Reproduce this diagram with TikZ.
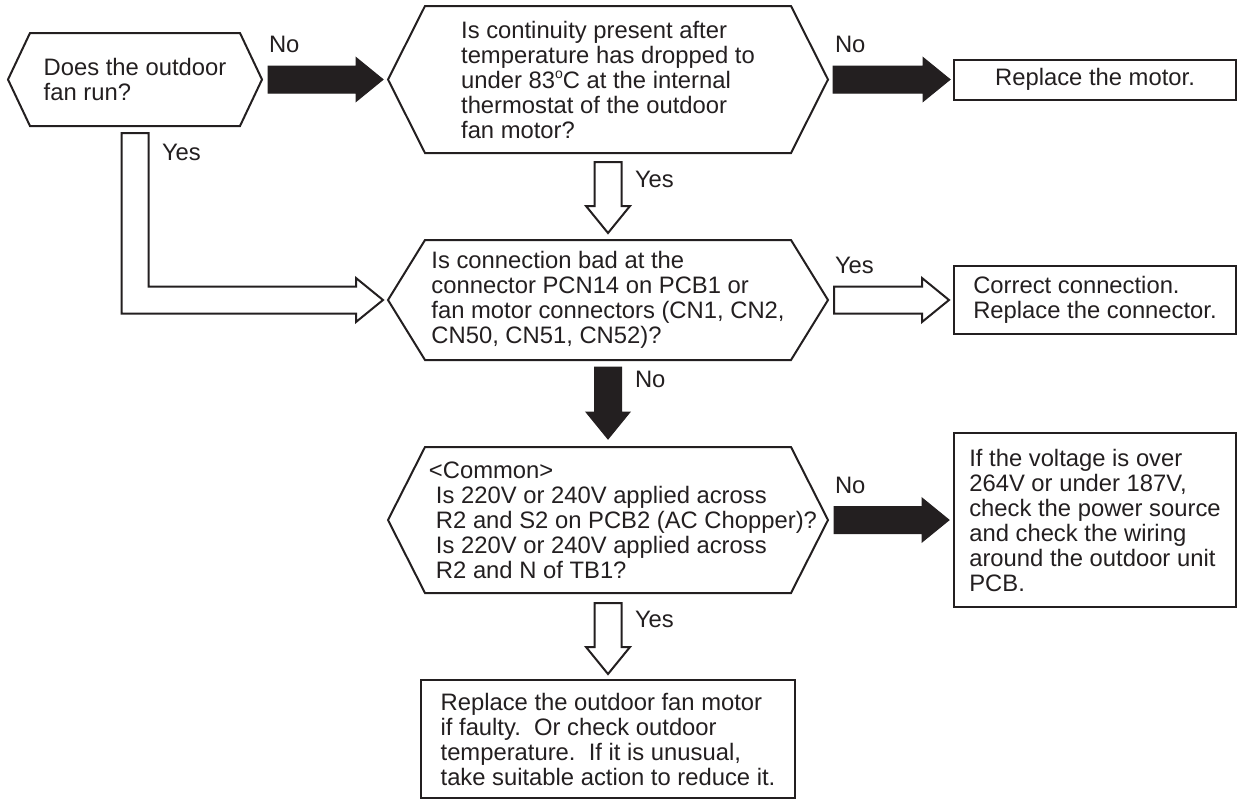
\documentclass[tikz,border=0pt]{standalone}
\usepackage{fontspec}
\setmainfont{Liberation Sans}
\usepackage{xcolor}
\usetikzlibrary{positioning,calc}

\definecolor{ink}{HTML}{231F20}

% hexagon drawn round a question node
\newcommand{\hexframe}[2]{%
  \draw[hexline] ([xshift=#2]#1.north west) -- ([xshift=-#2]#1.north east) -- (#1.east)
    -- ([xshift=-#2]#1.south east) -- ([xshift=#2]#1.south west) -- (#1.west) -- cycle;}

% block arrows: style, start, tip
\newcommand{\rarrow}[3]{%
  \draw[#1] let \p1=#2, \p2=#3 in
    (\x1,\y2+6.75pt) -- (\x2-13.5pt,\y2+6.75pt) -- (\x2-13.5pt,\y2+11pt) -- (\x2,\y2)
    -- (\x2-13.5pt,\y2-11pt) -- (\x2-13.5pt,\y2-6.75pt) -- (\x1,\y2-6.75pt) -- cycle;}
\newcommand{\darrow}[3]{%
  \draw[#1] let \p1=#2, \p2=#3 in
    (\x2-6.75pt,\y1) -- (\x2+6.75pt,\y1) -- (\x2+6.75pt,\y2+13.5pt) -- (\x2+11pt,\y2+13.5pt) -- (\x2,\y2)
    -- (\x2-11pt,\y2+13.5pt) -- (\x2-6.75pt,\y2+13.5pt) -- cycle;}

\begin{document}
\begin{tikzpicture}[
    node distance=43.5pt and 63pt,
    every node/.style={font=\fontsize{11.9pt}{12.5pt}\selectfont, text=ink, outer sep=0pt},
    hexbox/.style={align=left, inner sep=0pt, minimum width=220pt},
    box/.style={draw=ink, line width=1pt, align=left, minimum width=141pt},
    hexline/.style={draw=ink, line width=1pt, line join=miter},
    blackarrow/.style={fill=ink, draw=ink, line width=0.5pt},
    whitearrow/.style={fill=white, draw=ink, line width=1pt},
    lbl/.style={inner sep=0pt, anchor=base west}
]
\useasboundingbox (-67.5pt,39.75pt) rectangle (551pt,-360.25pt);

\node[hexbox, minimum width=127pt, minimum height=46.5pt] (run) {Does the outdoor\\fan run?};
\node[hexbox, minimum height=73.5pt, right=of run] (thermo) {Is continuity present after\\temperature has dropped to\\under 83{\fontsize{7pt}{7pt}\selectfont\raisebox{4.6pt}{o}}C at the internal\\thermostat of the outdoor\\fan motor?};
\node[box, minimum height=20pt, right=of thermo] (motor) {Replace the motor.};
\node[hexbox, minimum height=60pt, below=of thermo] (conn) {Is connection bad at the\\connector PCN14 on PCB1 or\\fan motor connectors (CN1, CN2,\\CN50, CN51, CN52)?};
\node[box, minimum height=34pt, right=of conn] (fix) {Correct connection.\\Replace the connector.};
\node[hexbox, minimum height=73pt, below=of conn] (volt) {\hspace*{15pt}<Common>\\\hspace*{18.5pt}Is 220V or 240V applied across\\\hspace*{18.5pt}R2 and S2 on PCB2 (AC Chopper)?\\\hspace*{18.5pt}Is 220V or 240V applied across\\\hspace*{18.5pt}R2 and N of TB1?};
\node[box, minimum height=87pt, right=of volt] (power) {If the voltage is over\\264V or under 187V,\\check the power source\\and check the wiring\\around the outdoor unit\\PCB.};
\node[box, minimum width=187pt, minimum height=59pt, below=of volt] (fanmotor) {Replace the outdoor fan motor\\if faulty.\ \ Or check outdoor\\temperature.\ \ If it is unusual,\\take suitable action to reduce it.};

\hexframe{run}{11pt}
\hexframe{thermo}{18.5pt}
\hexframe{conn}{18.5pt}
\hexframe{volt}{18.5pt}

% arrows
\rarrow{blackarrow}{([xshift=3pt]run.east)}{([xshift=-2.5pt]thermo.west)}
\rarrow{blackarrow}{([xshift=2.5pt]thermo.east)}{([xshift=-2pt]motor.west)}
\darrow{whitearrow}{([yshift=-4.5pt]thermo.south)}{([yshift=3.5pt]conn.north)}
\rarrow{whitearrow}{([xshift=3pt]conn.east)}{([xshift=-2.5pt]fix.west)}
\darrow{blackarrow}{([yshift=-3.5pt]conn.south)}{([yshift=4pt]volt.north)}
\rarrow{blackarrow}{([xshift=3pt]volt.east)}{([xshift=-2.5pt]power.west)}
\darrow{whitearrow}{([yshift=-5pt]volt.south)}{([yshift=3pt]fanmotor.north)}
\draw[whitearrow] let \p1=([yshift=-3.5pt]run.south), \p2=([xshift=-2.5pt]conn.west) in
  (\x1-6.75pt,\y1) -- (\x1+6.75pt,\y1) -- (\x1+6.75pt,\y2+6.75pt) -- (\x2-13.5pt,\y2+6.75pt)
  -- (\x2-13.5pt,\y2+11pt) -- (\x2,\y2) -- (\x2-13.5pt,\y2-11pt) -- (\x2-13.5pt,\y2-6.75pt)
  -- (\x1-6.75pt,\y2-6.75pt) -- cycle;

% labels
\node[lbl] (no1) at ([xshift=3.5pt,yshift=13.5pt]run.east) {No};
\node[lbl] (no2) at ([xshift=3.5pt,yshift=13.5pt]thermo.east) {No};
\node[lbl] (yes1) at ([xshift=13.5pt,yshift=-17pt]run.south) {Yes};
\node[lbl] (yes2) at ([xshift=13.5pt,yshift=-17pt]thermo.south) {Yes};
\node[lbl] (yes3) at ([xshift=3.5pt,yshift=13.5pt]conn.east) {Yes};
\node[lbl] (no3) at ([xshift=13.5pt,yshift=-13.5pt]conn.south) {No};
\node[lbl] (no4) at ([xshift=3.5pt,yshift=13.5pt]volt.east) {No};
\node[lbl] (yes4) at ([xshift=13.5pt,yshift=-17pt]volt.south) {Yes};

\end{tikzpicture}
\end{document}
